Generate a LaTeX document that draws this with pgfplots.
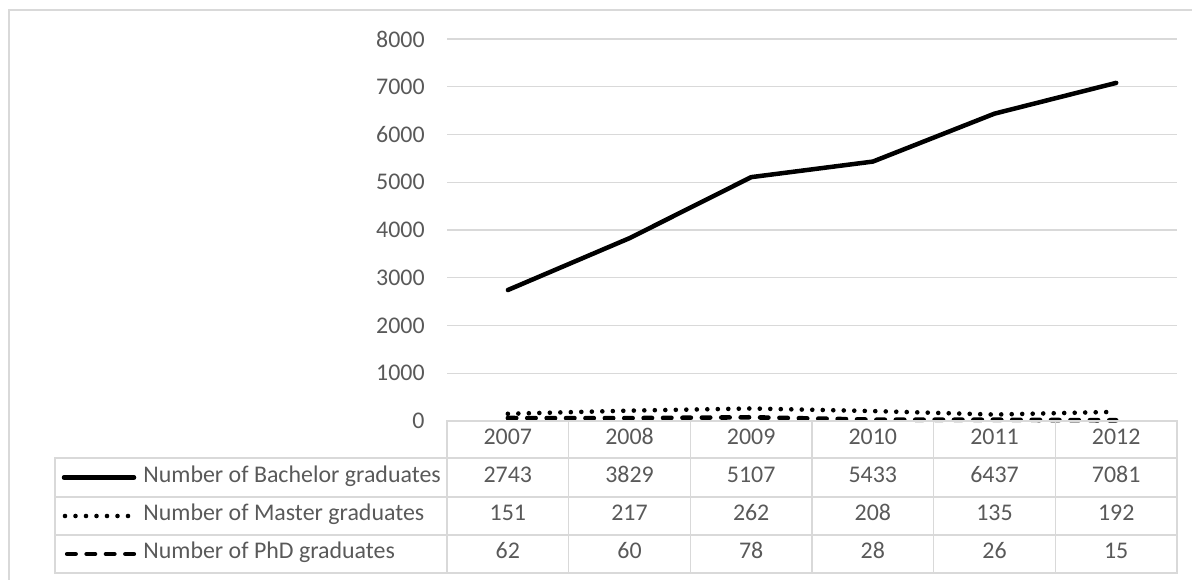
\documentclass[border=0pt]{standalone}
\usepackage{fontspec}
\setmainfont{Carlito}
\usepackage{pgfplots}
\usepackage{pgfplotstable}
\pgfplotsset{compat=1.18}
\definecolor{txt}{HTML}{595959}
\definecolor{rule}{HTML}{D9D9D9}
\newcommand\tabfont{\fontsize{12}{14}\selectfont}
\tikzset{
  bachline/.style={black, line width=2.25bp, line join=round, line cap=round},
  masterline/.style={black, line width=2.3bp, line cap=round, dash pattern=on 0pt off 5.25bp},
  phdline/.style={black, line width=2.3bp, line cap=round, dash pattern=on 4.2bp off 5.5bp},
}

% Graduates per year
\pgfplotstableread{
idx year bach master phd
0 2007 2743 151 62
1 2008 3829 217 60
2 2009 5107 262 78
3 2010 5433 208 28
4 2011 6437 135 26
5 2012 7081 192 15
}\grads

\begin{document}
\begin{tikzpicture}[x=1bp,y=1bp]
\useasboundingbox (0,0) rectangle (596,289.5);
\clip (0,0) rectangle (596,289.5);
% chart frame
\draw[rule, line width=0.75bp] (4.5,-5) -- (4.5,284.5) -- (605,284.5);

\begin{axis}[
  at={(223.5bp,79bp)}, anchor=south west,
  scale only axis, width=365bp, height=191bp,
  xmin=-0.5, xmax=5.5, ymin=0, ymax=8000,
  ytick={0,1000,...,8000}, xtick=\empty,
  ymajorgrids, grid style={rule, line width=0.6bp},
  axis line style={draw=none},
  major tick length=0pt,
  tick label style={font=\tabfont, text=txt},
  yticklabel style={inner sep=0pt, xshift=-11bp},
  /pgf/number format/assume math mode=true,
  /pgf/number format/1000 sep={},
  clip=false]
\addplot[bachline] table[x=idx, y=bach]{\grads};
\addplot[masterline] table[x=idx, y=master]{\grads};
\addplot[phdline] table[x=idx, y=phd]{\grads};
\end{axis}

% data table grid
\draw[rule, line width=0.75bp] (27.5,3) rectangle (588.5,60.5);
\draw[rule, line width=0.75bp] (27.5,41) -- (588.5,41) (27.5,22) -- (588.5,22);
\draw[rule, line width=0.75bp] (223.5,60.5) -- (223.5,79) -- (588.5,79) -- (588.5,60.5);
\foreach \k in {0,...,5} {
  \draw[rule, line width=0.75bp] ({223.5+60.833*\k},79) -- ({223.5+60.833*\k},3);
}

% legend keys and row labels
\draw[bachline] (32,50.75) -- (67,50.75);
\draw[masterline] (32.5,31.5) -- (65,31.5);
\draw[phdline] (33.6,12.5) -- (67,12.5);
\node[txt, font=\tabfont, anchor=mid west, inner sep=0pt] at (71.5,50.75) {Number of Bachelor graduates};
\node[txt, font=\tabfont, anchor=mid west, inner sep=0pt] at (71.5,31.5) {Number of Master graduates};
\node[txt, font=\tabfont, anchor=mid west, inner sep=0pt] at (71.5,12.5) {Number of PhD graduates};

% table values
\foreach \i in {0,...,5} {
  \pgfmathsetmacro\cx{253.917+60.833*\i}
  \pgfplotstablegetelem{\i}{year}\of\grads
  \node[txt, font=\tabfont, anchor=mid, inner sep=0pt] at (\cx,69.75) {\pgfplotsretval};
  \pgfplotstablegetelem{\i}{bach}\of\grads
  \node[txt, font=\tabfont, anchor=mid, inner sep=0pt] at (\cx,50.75) {\pgfplotsretval};
  \pgfplotstablegetelem{\i}{master}\of\grads
  \node[txt, font=\tabfont, anchor=mid, inner sep=0pt] at (\cx,31.5) {\pgfplotsretval};
  \pgfplotstablegetelem{\i}{phd}\of\grads
  \node[txt, font=\tabfont, anchor=mid, inner sep=0pt] at (\cx,12.5) {\pgfplotsretval};
}
\end{tikzpicture}
\end{document}
